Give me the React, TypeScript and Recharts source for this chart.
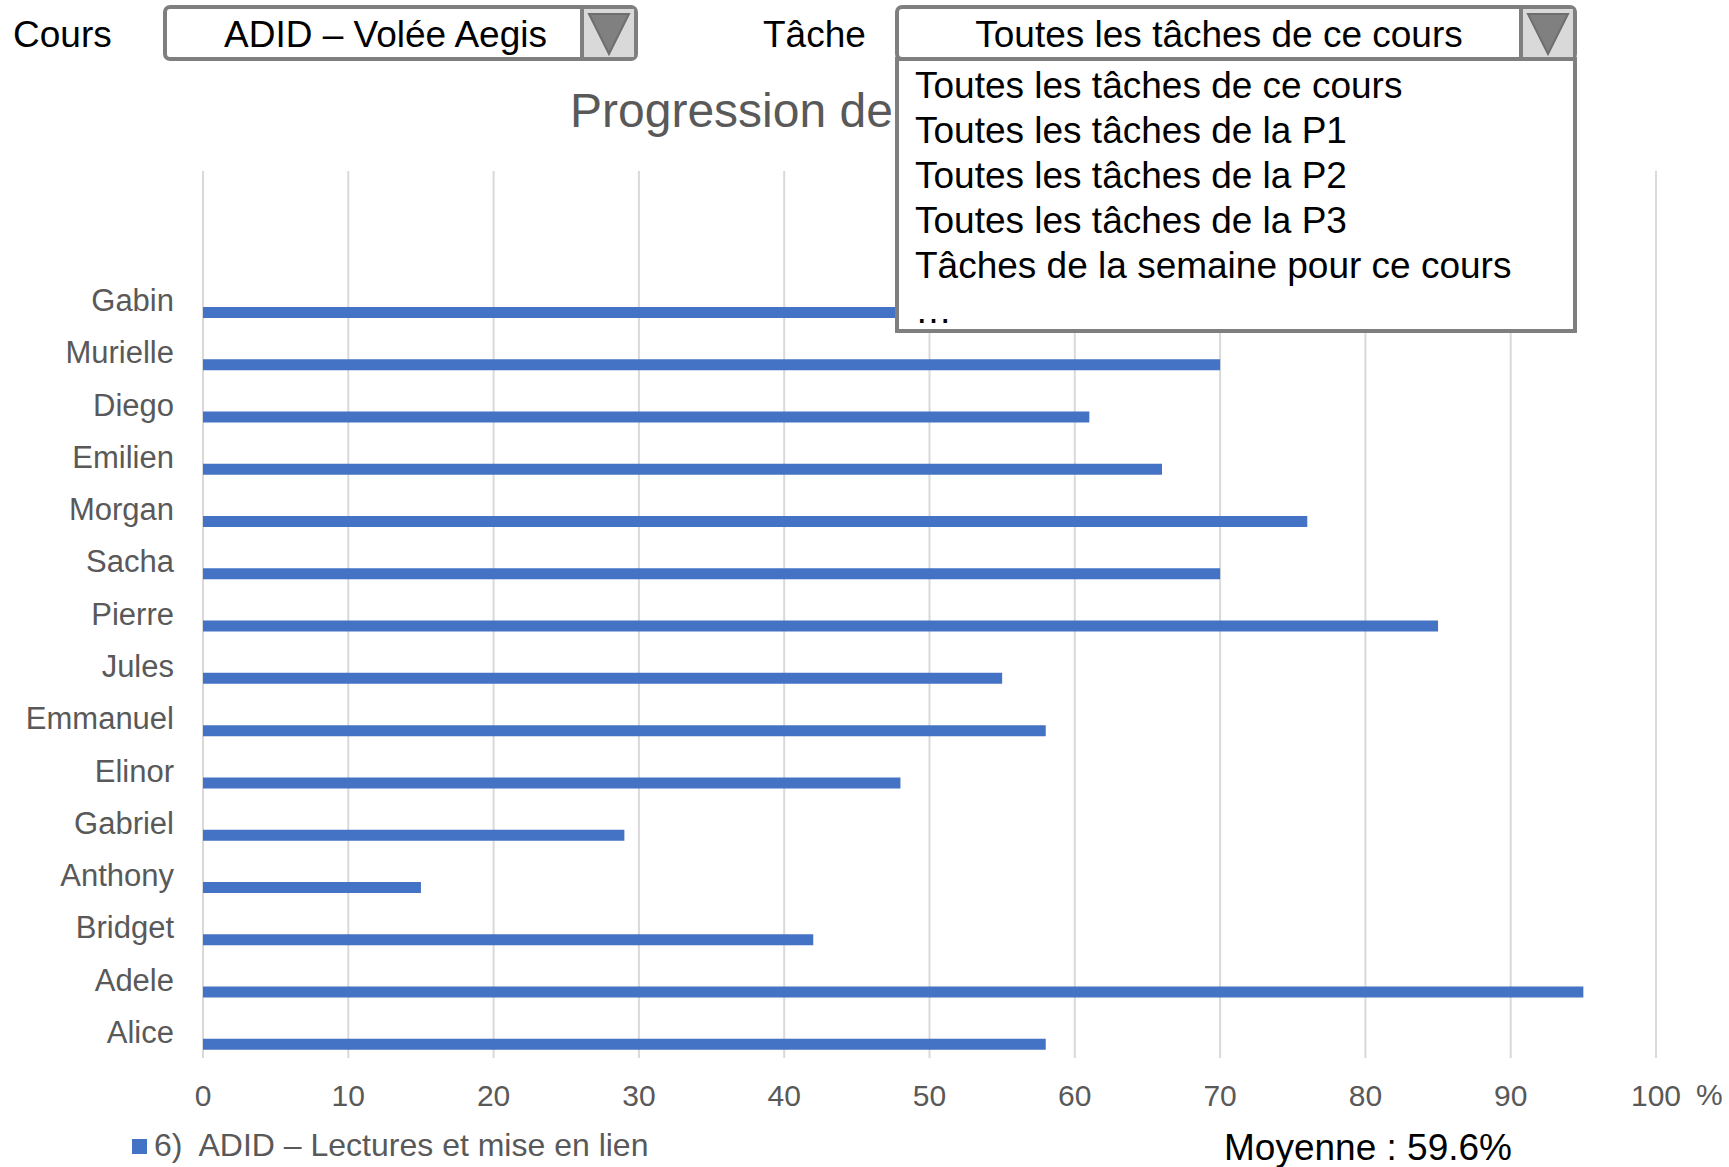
import { BarChart, Bar, XAxis, YAxis, CartesianGrid } from "recharts";

const students = [
  "Gabin",
  "Murielle",
  "Diego",
  "Emilien",
  "Morgan",
  "Sacha",
  "Pierre",
  "Jules",
  "Emmanuel",
  "Elinor",
  "Gabriel",
  "Anthony",
  "Bridget",
  "Adele",
  "Alice",
];
const progression = [66, 70, 61, 66, 76, 70, 85, 55, 58, 48, 29, 15, 42, 95, 58];
const xTicks = [0, 10, 20, 30, 40, 50, 60, 70, 80, 90, 100];

const seriesName = "6)  ADID – Lectures et mise en lien";
const courseName = "ADID – Volée Aegis";
const taskSelected = "Toutes les tâches de ce cours";
const taskOptions = [
  "Toutes les tâches de ce cours",
  "Toutes les tâches de la P1",
  "Toutes les tâches de la P2",
  "Toutes les tâches de la P3",
  "Tâches de la semaine pour ce cours",
  "…",
];
const averageLabel = "Moyenne : 59.6%";

const FONT = '"Liberation Sans", Arial, sans-serif';
const GRAY = "#595959";
const BORDER = "#7f7f7f";

const data = students.map((name, i) => ({ name, value: progression[i] }));

function Arrow() {
  return (
    <svg width="46" height="46" viewBox="0 0 46 46">
      <polygon points="3,4 43,4 23,44" fill="#808080" stroke="#6e6e6e" strokeWidth="2" />
    </svg>
  );
}

function Dropdown({
  left,
  width,
  text,
  textShift,
}: {
  left: number;
  width: number;
  text: string;
  textShift: number;
}) {
  return (
    <div
      style={{
        position: "absolute",
        left,
        top: 5,
        width,
        height: 56,
        boxSizing: "border-box",
        border: `4px solid ${BORDER}`,
        borderRadius: 7,
        background: "#fff",
        display: "flex",
      }}
    >
      <div
        style={{
          flex: 1,
          textAlign: "center",
          lineHeight: "52px",
          fontSize: 37,
          color: "#000",
          paddingLeft: textShift,
          whiteSpace: "nowrap",
        }}
      >
        {text}
      </div>
      <div
        style={{
          width: 50,
          background: "#d9d9d9",
          borderLeft: `4px solid ${BORDER}`,
          display: "flex",
          alignItems: "center",
          justifyContent: "center",
        }}
      >
        <Arrow />
      </div>
    </div>
  );
}

export default function App() {
  return (
    <div
      style={{
        position: "absolute",
        left: 0,
        top: 0,
        width: 1729,
        height: 1167,
        background: "#fff",
        fontFamily: FONT,
        overflow: "hidden",
      }}
    >
      <BarChart
        width={1729}
        height={1167}
        data={data}
        layout="vertical"
        margin={{ top: 171, right: 73, bottom: 49, left: 0 }}
        barSize={11}
        barGap={13}
      >
        <CartesianGrid horizontal={false} stroke="#d9d9d9" strokeWidth={2} />
        <XAxis
          type="number"
          domain={[0, 100]}
          ticks={xTicks}
          interval={0}
          axisLine={false}
          tickLine={false}
          tickMargin={21}
          height={60}
          tick={{ fontSize: 30, fill: GRAY, fontFamily: FONT }}
        />
        <YAxis
          type="category"
          dataKey="name"
          width={203}
          interval={0}
          axisLine={false}
          tickLine={false}
          tickMargin={23}
          padding={{ top: 103, bottom: 0 }}
          tick={{ fontSize: 31, fill: GRAY, fontFamily: FONT }}
        />
        {/* empty series: Excel leaves a slot above each bar */}
        <Bar dataKey="spacer" fill="none" isAnimationActive={false} />
        <Bar dataKey="value" fill="#4472C4" isAnimationActive={false} />
      </BarChart>

      <div
        style={{
          position: "absolute",
          left: 1696,
          top: 1078,
          fontSize: 30,
          color: GRAY,
        }}
      >
        %
      </div>

      <div
        style={{
          position: "absolute",
          left: 570,
          top: 83,
          fontSize: 48,
          color: GRAY,
          whiteSpace: "nowrap",
        }}
      >
        Progression de
      </div>

      <div style={{ position: "absolute", left: 13, top: 14, fontSize: 37, color: "#000" }}>
        Cours
      </div>
      <Dropdown left={163} width={475} text={courseName} textShift={24} />

      <div style={{ position: "absolute", left: 763, top: 14, fontSize: 37, color: "#000" }}>
        Tâche
      </div>
      <Dropdown left={895} width={682} text={taskSelected} textShift={20} />

      <div
        style={{
          position: "absolute",
          left: 895,
          top: 57,
          width: 682,
          height: 276,
          boxSizing: "border-box",
          border: `4px solid ${BORDER}`,
          background: "#fff",
          paddingLeft: 16,
          paddingTop: 2,
        }}
      >
        {taskOptions.map((opt) => (
          <div key={opt} style={{ fontSize: 37, lineHeight: "45px", color: "#000", whiteSpace: "nowrap" }}>
            {opt}
          </div>
        ))}
      </div>

      <div
        style={{
          position: "absolute",
          left: 132,
          top: 1139,
          width: 15,
          height: 15,
          background: "#4472C4",
        }}
      />
      <div
        style={{
          position: "absolute",
          left: 154,
          top: 1127,
          fontSize: 32,
          color: GRAY,
          whiteSpace: "pre",
        }}
      >
        {seriesName}
      </div>

      <div
        style={{
          position: "absolute",
          left: 1224,
          top: 1127,
          fontSize: 37,
          color: "#000",
          whiteSpace: "nowrap",
        }}
      >
        {averageLabel}
      </div>
    </div>
  );
}
